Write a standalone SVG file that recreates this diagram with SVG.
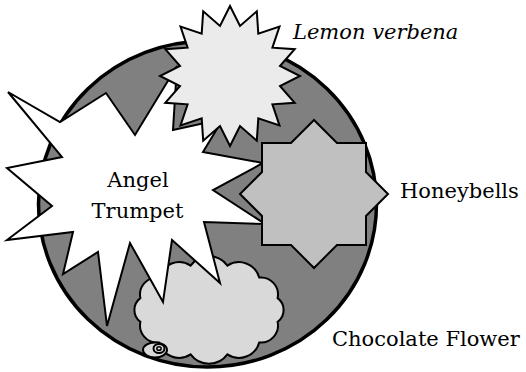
<svg xmlns="http://www.w3.org/2000/svg" width="526" height="372" viewBox="0 0 526 372">
<style>
.sh{stroke:#000;stroke-width:2;stroke-linejoin:miter}
.lbl{font-family:"DejaVu Serif","Liberation Serif",serif;font-size:21px;fill:#000}
</style>
<rect width="526" height="372" fill="#fff"/>
<g id="garden">
<ellipse cx="207.5" cy="204" rx="169" ry="163" fill="#808080" stroke="#000" stroke-width="3.5"/>
</g>
<g id="chocolate-flower">
<path class="sh" fill="#d9d9d9" d="M 277.6,298.1 A 14.8 14.8 0 0 1 277.6,321.9 A 17.1 17.1 0 0 1 259.2,342.5 A 21 21 0 0 1 227.4,354.4 A 22.8 22.8 0 0 1 190.6,354.4 A 21 21 0 0 1 158.8,342.5 A 17.1 17.1 0 0 1 140.4,321.9 A 14.8 14.8 0 0 1 140.4,298.1 A 17.1 17.1 0 0 1 158.8,277.5 A 21 21 0 0 1 190.6,265.6 A 22.8 22.8 0 0 1 227.4,265.6 A 21 21 0 0 1 259.2,277.5 A 17.1 17.1 0 0 1 277.6,298.1 Z"/>
<ellipse class="sh" cx="155" cy="350" rx="12" ry="7.5" fill="#d9d9d9"/>
<ellipse class="sh" cx="159" cy="348.5" rx="5.5" ry="4.5" fill="#d9d9d9"/>
<ellipse cx="159" cy="348.5" rx="2.2" ry="1.8" fill="none" stroke="#000" stroke-width="1.5"/>
<text class="lbl" x="332" y="346">Chocolate Flower</text>
</g>
<g id="angel-trumpet">
<polygon class="sh" fill="#fff" points="8,92 60,122 106,93 135,135 177,66 173,130 223,119 203,152 263,163 213,190 265,224 204,222 220,283 172,240 163,302 130,243 107,326 98,252 63,274 73,232 7,240 52,206 7,168 62,157"/>
<text class="lbl" x="138" y="187" text-anchor="middle">Angel</text>
<text class="lbl" x="137.5" y="218" text-anchor="middle">Trumpet</text>
</g>
<g id="lemon-verbena">
<polygon class="sh" fill="#ebebeb" points="230,6 240,26 256.8,11.3 258.3,33.6 279.5,26.5 272.4,47.7 294.7,49.2 280,66 300,76 280,86 294.7,102.8 272.4,104.3 279.5,125.5 258.3,118.4 256.8,140.7 240,126 230,146 220,126 203.2,140.7 201.7,118.4 180.5,125.5 187.6,104.3 165.3,102.8 180,86 160,76 180,66 165.3,49.2 187.6,47.7 180.5,26.5 201.7,33.6 203.2,11.3 220,26"/>
<text class="lbl" x="293" y="39" font-style="italic">Lemon verbena</text>
</g>
<g id="honeybells">
<polygon class="sh" fill="#c0c0c0" points="314,120 337,143 366,143 366,172 388,194 366,216 366,245 337,245 314,268 291,245 262,245 262,216 240,194 262,172 262,143 291,143"/>
<text class="lbl" x="400" y="198">Honeybells</text>
</g>
</svg>
